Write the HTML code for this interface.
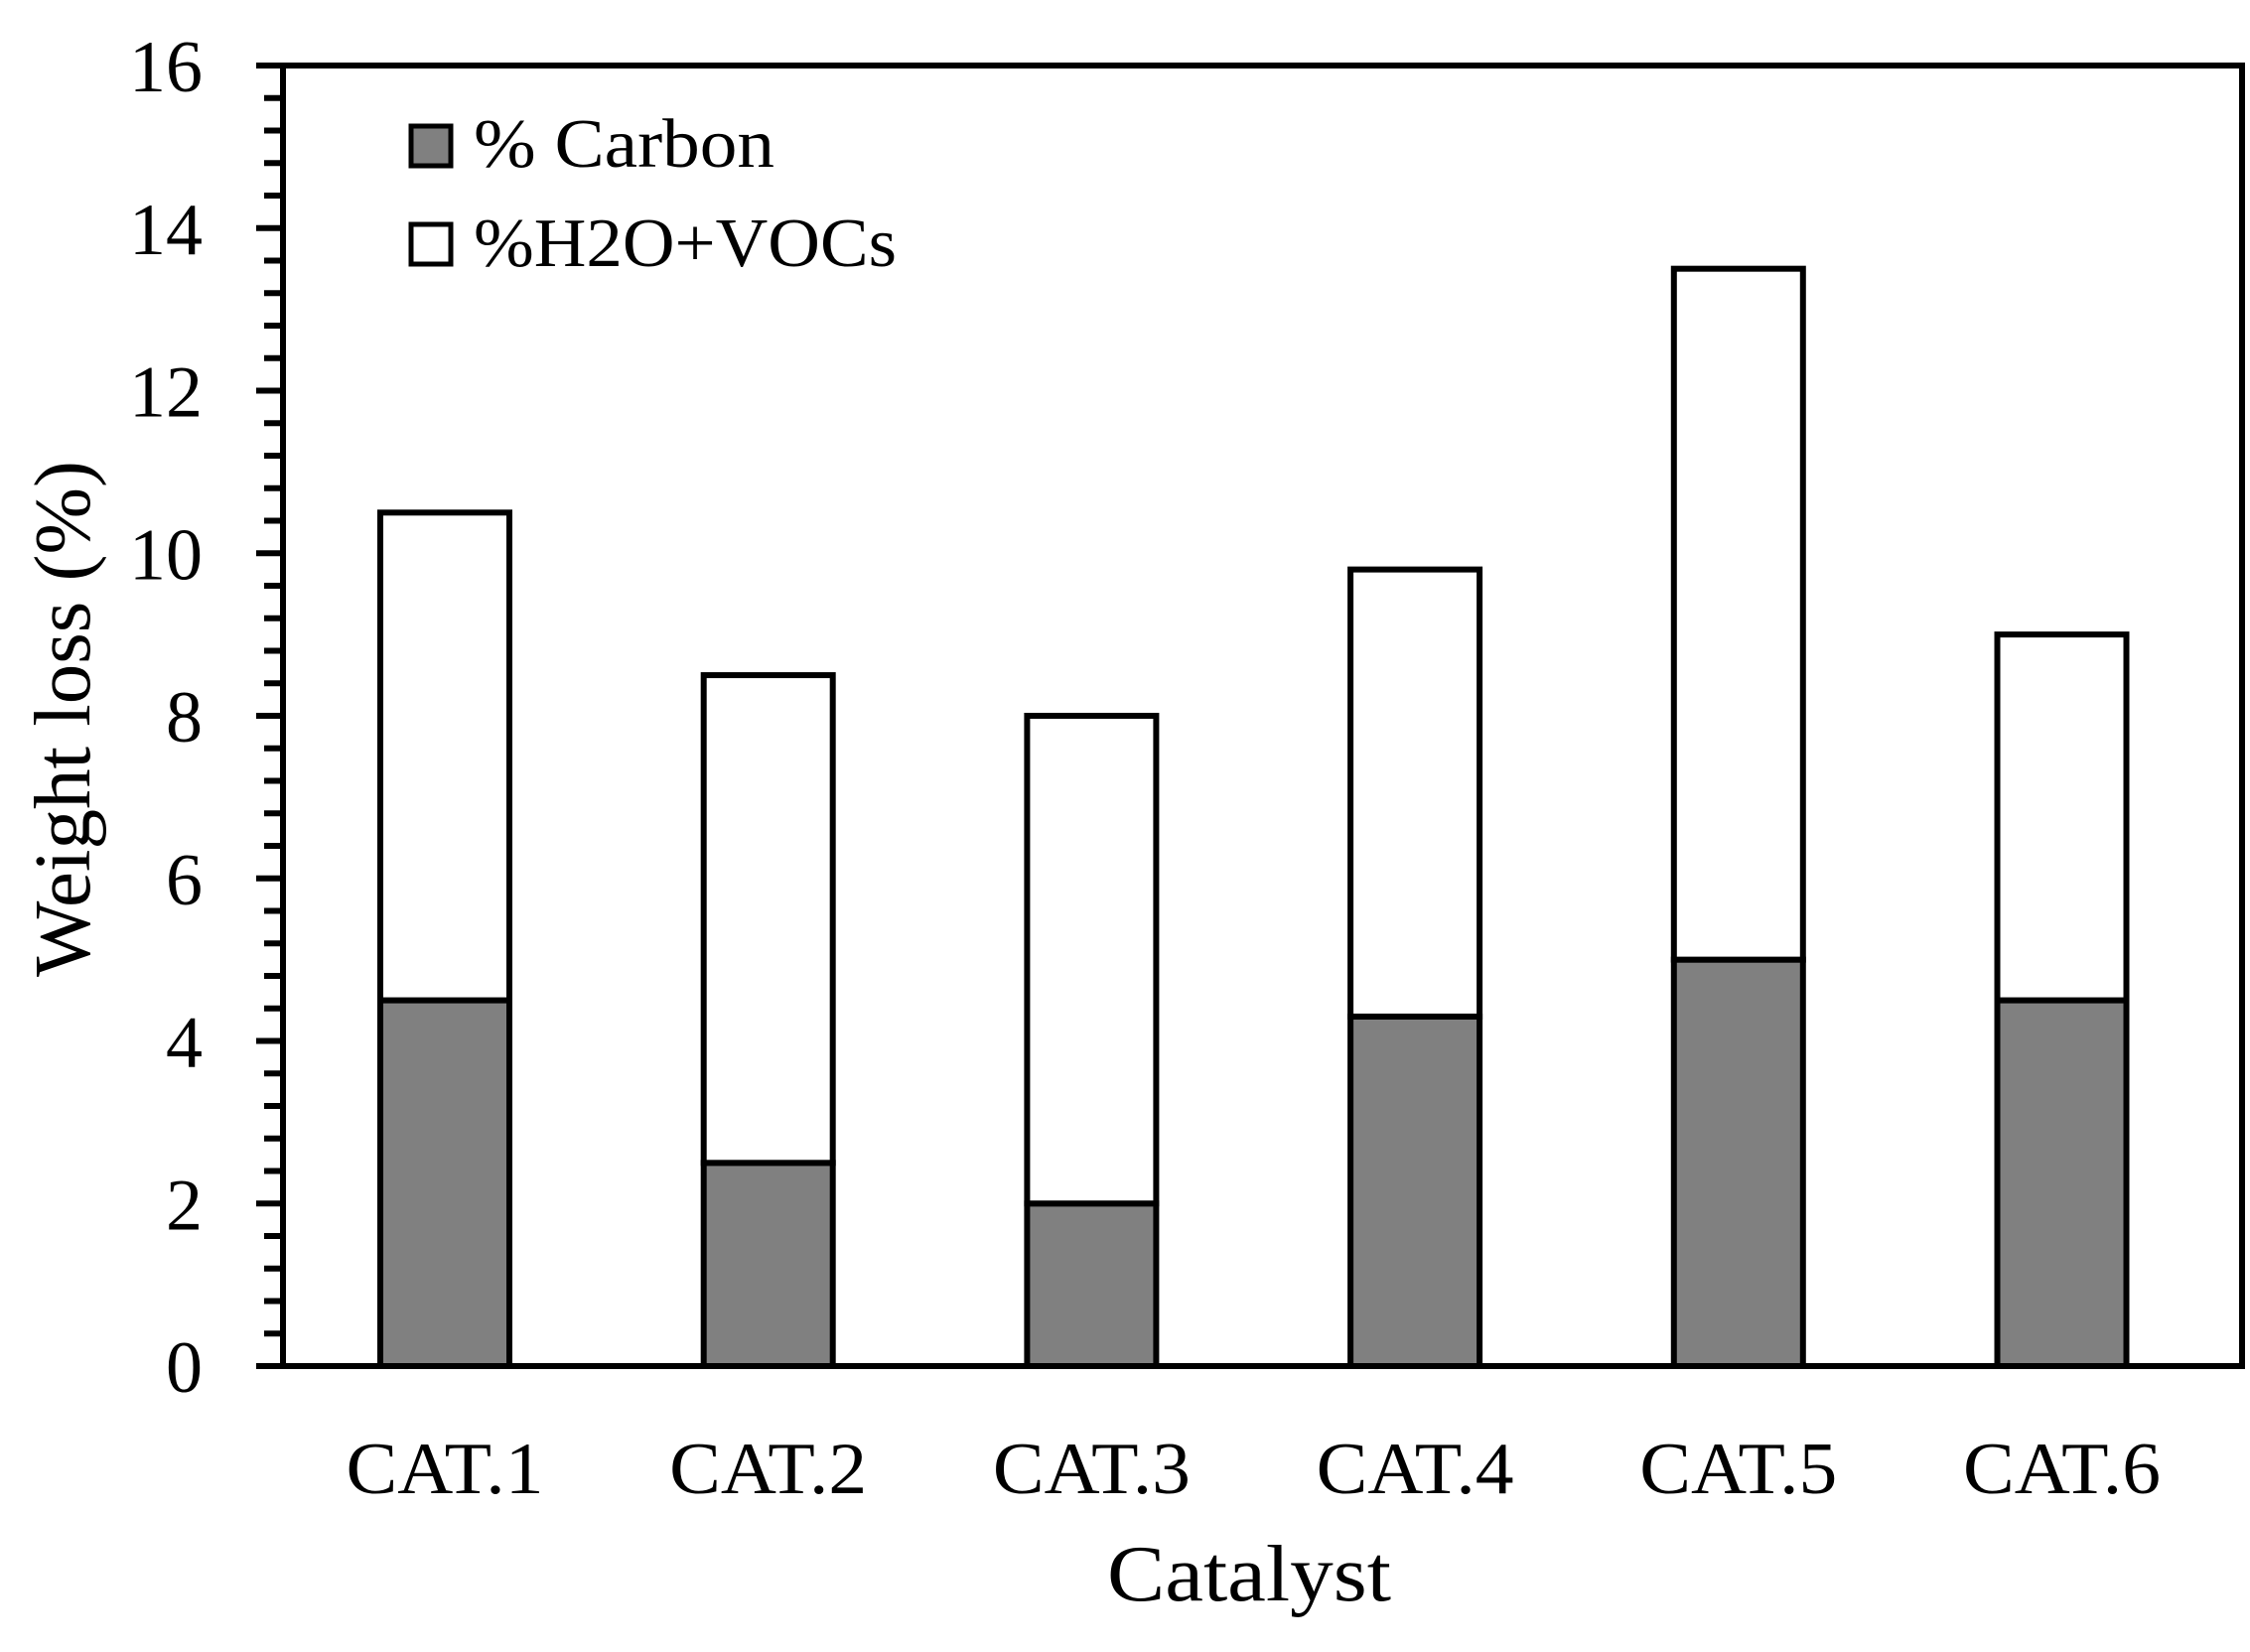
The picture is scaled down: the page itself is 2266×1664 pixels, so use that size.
<!DOCTYPE html>
<html><head><meta charset="utf-8"><style>
html,body{margin:0;padding:0;background:#fff;}
svg text{font-family:"Liberation Serif",serif;fill:#000;}
</style></head><body>
<svg id="chart" width="2266" height="1659" viewBox="0 0 2266 1659" xmlns="http://www.w3.org/2000/svg">
<g id="bars"></g>
<g id="axes"></g>
<g>
  <rect x="414" y="127" width="40" height="40" fill="#808080" stroke="#000" stroke-width="5"/>
  <text x="477" y="168" font-size="70" textLength="303" lengthAdjust="spacingAndGlyphs">% Carbon</text>
  <rect x="414" y="226" width="40" height="40" fill="#fff" stroke="#000" stroke-width="5"/>
  <text x="477" y="268" font-size="70" textLength="426" lengthAdjust="spacingAndGlyphs">%H2O+VOCs</text>
</g>
<text x="1258" y="1612" font-size="80" text-anchor="middle" textLength="286" lengthAdjust="spacingAndGlyphs">Catalyst</text>
<text transform="translate(90,724) rotate(-90)" font-size="80" text-anchor="middle" textLength="520" lengthAdjust="spacingAndGlyphs">Weight loss (%)</text>
</svg>
<script>
const categories = ["CAT.1","CAT.2","CAT.3","CAT.4","CAT.5","CAT.6"];
const carbon = [4.5, 2.5, 2.0, 4.3, 5.0, 4.5];
const h2oVocs = [6.0, 6.0, 6.0, 5.5, 8.5, 4.5];
const yTicks = [0, 2, 4, 6, 8, 10, 12, 14, 16];

const NS = "http://www.w3.org/2000/svg";
const X0 = 285, X1 = 2258, Y0 = 1376, Y1 = 66, YMAX = 16;
const yScale = v => Y0 - (v / YMAX) * (Y0 - Y1);
const STEP = 325.7, FIRST = 448;
const xCenter = i => FIRST + STEP * i;
const BW = 130;
function mk(tag, attrs, parent){const e=document.createElementNS(NS,tag);for(const k in attrs)e.setAttribute(k,attrs[k]);parent.appendChild(e);return e;}
const bars = document.getElementById('bars');
const axes = document.getElementById('axes');
categories.forEach((c, i) => {
  const cx = xCenter(i);
  const yc = yScale(carbon[i]);
  const yt = yScale(carbon[i] + h2oVocs[i]);
  const r1 = mk('rect', {x: cx - BW/2, y: yc, width: BW, height: Y0 - yc, fill: '#808080', stroke: '#000', 'stroke-width': 6}, bars);
  
  
  const r2 = mk('rect', {x: cx - BW/2, y: yt, width: BW, height: yc - yt, fill: '#fff', stroke: '#000', 'stroke-width': 6}, bars);
  
  
  const t = mk('text', {x: cx, y: 1504, 'font-size': 74, 'text-anchor': 'middle', textLength: 199, lengthAdjust: 'spacingAndGlyphs'}, axes);
  t.textContent = c;
  
  
});
const fr = mk('rect', {x: X0, y: Y1, width: X1 - X0, height: Y0 - Y1, fill: 'none', stroke: '#000', 'stroke-width': 6}, axes);


for (let k = 0; k <= 40; k++) {
  const v = k * 0.4;
  const major = (k % 5 === 0);
  const y = yScale(v);
  const tk = mk('line', {x1: major ? 258 : 266, x2: X0, y1: y, y2: y, stroke: '#000', 'stroke-width': 6}, axes);
  
  
}
yTicks.forEach(v => {
  const t = mk('text', {x: 204, y: yScale(v) + 26, 'font-size': 74, 'text-anchor': 'end'}, axes);
  t.textContent = String(v);
  
  
});
</script>
</body></html>
